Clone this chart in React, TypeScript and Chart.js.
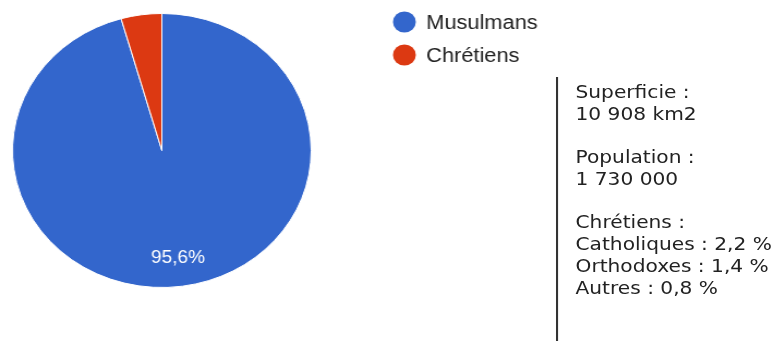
import { useEffect, useRef } from "react";
import { Chart, registerables } from "chart.js";

Chart.register(...registerables);

const categories = ["Musulmans", "Chrétiens"];
const shares = [95.6, 4.4];
const colors = ["#3366cc", "#dc3912"];
const infoBlocks = [
  ["Superficie :", "10 908 km2"],
  ["Population :", "1 730 000"],
  ["Chrétiens :", "Catholiques : 2,2 %", "Orthodoxes : 1,4 %", "Autres : 0,8 %"],
];

const SX = 1.09;

const sliceLabels = {
  id: "sliceLabels",
  afterDatasetsDraw(chart: any) {
    const ctx = chart.ctx;
    const meta = chart.getDatasetMeta(0);
    const vals: number[] = chart.data.datasets[0].data;
    const total = vals.reduce((a, b) => a + b, 0);
    ctx.save();
    ctx.font = '17.5px "Liberation Sans", Arial, sans-serif';
    ctx.fillStyle = "#ffffff";
    ctx.textAlign = "center";
    ctx.textBaseline = "middle";
    meta.data.forEach((arc: any, i: number) => {
      const pct = (vals[i] / total) * 100;
      if (pct < 10) return;
      const p = arc.getProps(["x", "y", "startAngle", "endAngle", "outerRadius"], true);
      const mid = (p.startAngle + p.endAngle) / 2;
      const r = p.outerRadius * 0.785;
      ctx.fillText(pct.toFixed(1).replace(".", ",") + "%", p.x + Math.cos(mid) * r, p.y + Math.sin(mid) * r + 1);
    });
    ctx.restore();
  },
};

const sideLegend = {
  id: "sideLegend",
  afterDraw(chart: any) {
    const ctx = chart.ctx;
    const ds = chart.data.datasets[0];
    const cx = chart.chartArea.right + 85;
    ctx.save();
    ctx.font = '20px "Liberation Sans", Arial, sans-serif';
    ctx.textBaseline = "middle";
    ctx.textAlign = "left";
    chart.data.labels.forEach((lab: string, i: number) => {
      const y = 22 + i * 33;
      ctx.beginPath();
      ctx.arc(cx, y, 10.5, 0, Math.PI * 2);
      ctx.fillStyle = ds.backgroundColor[i];
      ctx.fill();
      ctx.fillStyle = "#222222";
      ctx.fillText(lab, cx + 20, y + 1);
    });
    ctx.restore();
  },
};

export default function App() {
  const ref = useRef<HTMLCanvasElement>(null);
  useEffect(() => {
    const chart = new Chart(ref.current as HTMLCanvasElement, {
      type: "pie",
      data: {
        labels: categories,
        datasets: [
          {
            data: shares,
            backgroundColor: colors,
            borderColor: "#ffffff",
            borderWidth: 1,
          },
        ],
      },
      options: {
        responsive: true,
        maintainAspectRatio: false,
        animation: false,
        layout: { padding: { left: 11, top: 13, right: 424, bottom: 53 } },
        plugins: { legend: { display: false }, tooltip: { enabled: false } },
      },
      plugins: [sliceLabels, sideLegend],
    } as any);
    return () => chart.destroy();
  }, []);

  return (
    <div style={{ position: "fixed", left: 0, top: 0, width: 774, height: 341, overflow: "hidden", background: "#fff" }}>
      <div
        style={{
          position: "absolute",
          left: 0,
          top: 0,
          width: 710,
          height: 341,
          transform: `scaleX(${SX})`,
          transformOrigin: "0 0",
        }}
      >
        <div style={{ position: "absolute", left: 0, top: 0, width: 710, height: 341 }}>
          <canvas ref={ref} />
        </div>
        <div style={{ position: "absolute", left: 510, top: 77, height: 264, borderLeft: "2px solid #333" }} />
        <div
          style={{
            position: "absolute",
            left: 528,
            top: 81,
            font: '18.5px/22px "DejaVu Sans", Verdana, sans-serif',
            color: "#222",
            whiteSpace: "nowrap",
          }}
        >
          {infoBlocks.map((b, i) => (
            <div key={i} style={{ marginBottom: 21 }}>
              {b.map((l, j) => (
                <div key={j}>{l}</div>
              ))}
            </div>
          ))}
        </div>
      </div>
    </div>
  );
}
